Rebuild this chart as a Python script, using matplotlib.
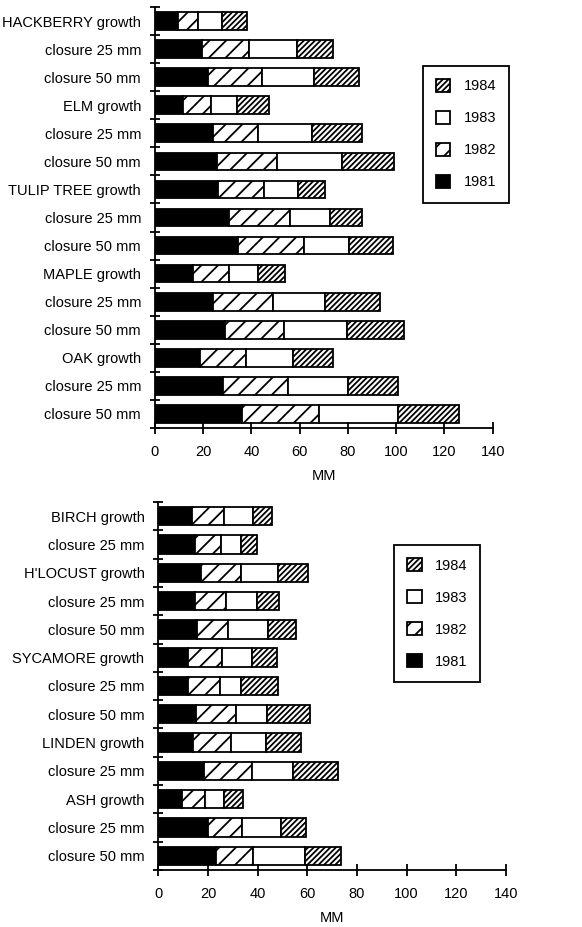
import matplotlib
matplotlib.use("Agg")
import matplotlib.pyplot as plt
from matplotlib.patches import Patch
import numpy as np

plt.rcParams['font.family'] = ['Liberation Sans', 'DejaVu Sans']
plt.rcParams['hatch.linewidth'] = 1.3

YEARS = ['1981', '1982', '1983', '1984']

# top panel
top_labels = ['HACKBERRY growth', 'closure 25 mm', 'closure 50 mm',
              'ELM growth', 'closure 25 mm', 'closure 50 mm',
              'TULIP TREE growth', 'closure 25 mm', 'closure 50 mm',
              'MAPLE growth', 'closure 25 mm', 'closure 50 mm',
              'OAK growth', 'closure 25 mm', 'closure 50 mm']
top_1981 = [9.7, 19.4, 22.1, 11.5, 23.9, 25.9, 26.3, 30.8, 34.6, 15.6, 24.2, 29.0, 18.7, 28.3, 36.2]
top_1982 = [8.3, 19.7, 22.2, 11.6, 19.0, 24.8, 18.9, 25.2, 27.2, 15.2, 24.6, 24.5, 18.9, 27.0, 32.0]
top_1983 = [9.7, 19.7, 21.7, 10.8, 22.4, 26.8, 14.0, 16.6, 18.7, 12.1, 21.7, 26.0, 19.5, 24.9, 32.5]
top_1984 = [10.3, 14.9, 18.4, 13.5, 20.7, 21.4, 11.1, 13.4, 18.1, 11.0, 22.6, 23.8, 16.6, 20.5, 25.2]

# bottom panel
bot_labels = ['BIRCH growth', 'closure 25 mm',
              "H'LOCUST growth", 'closure 25 mm', 'closure 50 mm',
              'SYCAMORE growth', 'closure 25 mm', 'closure 50 mm',
              'LINDEN growth', 'closure 25 mm',
              'ASH growth', 'closure 25 mm', 'closure 50 mm']
bot_1981 = [13.4, 14.8, 17.2, 14.8, 15.5, 11.8, 11.8, 15.1, 13.8, 18.5, 9.7, 20.1, 23.1]
bot_1982 = [13.0, 10.3, 16.0, 12.3, 12.7, 13.7, 13.0, 16.2, 15.5, 19.3, 9.1, 13.7, 15.1]
bot_1983 = [11.8, 8.1, 15.1, 12.5, 16.1, 12.1, 8.4, 12.3, 13.9, 16.5, 7.8, 15.5, 20.9]
bot_1984 = [7.4, 6.4, 12.1, 9.1, 11.1, 10.3, 14.9, 17.5, 14.2, 18.2, 7.4, 10.2, 14.3]

STYLES = [dict(color='black', hatch=None),
          dict(color='white', hatch='//'),
          dict(color='white', hatch=None),
          dict(color='white', hatch='//////')]


def draw_panel(ax, labels, series, height):
    y = np.arange(len(labels))
    left = np.zeros(len(labels))
    for vals, st in zip(series, STYLES):
        vals = np.array(vals)
        ax.barh(y, vals, left=left, height=height, color=st['color'],
                hatch=st['hatch'], edgecolor='black', linewidth=1.3)
        left = left + vals
    ax.set_ylim(len(labels) - 0.5, -0.5)
    ax.set_xlim(0, 140)
    ax.set_xticks(np.arange(0, 141, 20))
    ax.set_yticks(y)
    ax.set_yticklabels(labels, fontsize=10.5)
    ax.set_yticks(np.arange(len(labels) + 1) - 0.5, minor=True)
    ax.tick_params(axis='y', which='major', length=0, pad=10)
    ax.tick_params(axis='y', which='minor', direction='inout', length=7, width=1.3)
    ax.tick_params(axis='x', direction='inout', length=9, width=1.3, labelsize=10.5, pad=8)
    ax.spines['top'].set_visible(False)
    ax.spines['right'].set_visible(False)
    ax.spines['left'].set_linewidth(1.3)
    ax.spines['bottom'].set_linewidth(1.3)
    ax.set_xlabel('MM', fontsize=10.5, labelpad=7)


def add_legend(fig, x, y):
    handles = [Patch(facecolor=st['color'], hatch=st['hatch'], edgecolor='black', linewidth=1.3)
               for st in STYLES][::-1]
    leg = fig.legend(handles, YEARS[::-1], loc='upper left', bbox_to_anchor=(x, y),
                     fontsize=10.5, handlelength=1.0, handleheight=1.0,
                     labelspacing=1.2, handletextpad=0.9, borderpad=0.9,
                     borderaxespad=0, fancybox=False, framealpha=1, edgecolor='black')
    leg.get_frame().set_linewidth(1.3)


fig = plt.figure(figsize=(5.82, 9.27), dpi=100)
ax1 = fig.add_axes([0.2663, 0.5383, 0.5802, 0.4541])
draw_panel(ax1, top_labels, [top_1981, top_1982, top_1983, top_1984], 0.63)
ax2 = fig.add_axes([0.272, 0.0615, 0.5974, 0.397])
draw_panel(ax2, bot_labels, [bot_1981, bot_1982, bot_1983, bot_1984], 0.65)

add_legend(fig, 422.7 / 582, 1 - 65.7 / 927)
add_legend(fig, 394 / 582, 1 - 545 / 927)

fig.savefig('out.png', dpi=100)
